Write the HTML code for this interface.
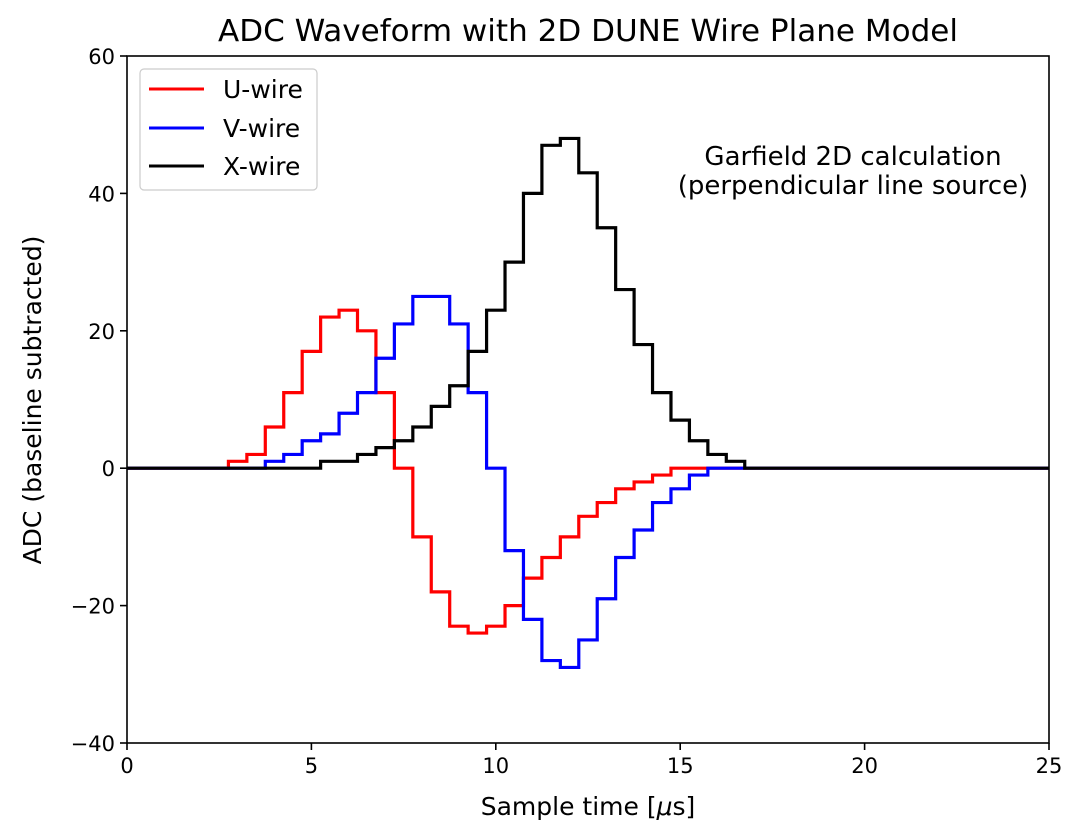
<!DOCTYPE html>
<html><head><meta charset="utf-8"><style>
body{margin:0;background:#fff}
svg text{font-family:"DejaVu Sans","Liberation Sans",sans-serif;fill:#000}
</style></head><body>
<svg id="chart" width="1083" height="830" viewBox="0 0 1083 830" xmlns="http://www.w3.org/2000/svg">
<text x="588" y="41" font-size="30" text-anchor="middle" textLength="740" lengthAdjust="spacingAndGlyphs">ADC Waveform with 2D DUNE Wire Plane Model</text>
<g id="ticks"></g>
<g id="series"></g>
<rect x="127" y="56" width="922" height="687" fill="none" stroke="#000" stroke-width="1.6"/>
<text x="588" y="815" font-size="25" text-anchor="middle">Sample time [<tspan font-style="italic">μ</tspan>s]</text>
<text transform="translate(41,400) rotate(-90)" font-size="25" text-anchor="middle">ADC (baseline subtracted)</text>
<g font-size="26" text-anchor="middle">
<text x="853" y="165">Garfield 2D calculation</text>
<text x="853" y="194">(perpendicular line source)</text>
</g>
<g>
<rect x="140" y="69" width="177" height="121" rx="4" fill="#fff" fill-opacity="0.8" stroke="#ccc" stroke-width="1.2"/>
<line x1="149" y1="89" x2="204" y2="89" stroke="#ff0000" stroke-width="3"/>
<text x="223" y="98" font-size="25">U-wire</text>
<line x1="149" y1="128" x2="204" y2="128" stroke="#0000ff" stroke-width="3"/>
<text x="223" y="137" font-size="25">V-wire</text>
<line x1="149" y1="166" x2="204" y2="166" stroke="#000" stroke-width="3"/>
<text x="223" y="175" font-size="25">X-wire</text>
</g>
</svg>
<script>
// Sample times 0..25 step 0.5; nonzero values listed from startT
const uStart = 3.0;
const uValues = [1,2,6,11,17,22,23,20,11,0,-10,-18,-23,-24,-23,-20,-16,-13,-10,-7,-5,-3,-2,-1,0];
const vStart = 4.0;
const vValues = [1,2,4,5,8,11,16,21,25,25,21,11,0,-12,-22,-28,-29,-25,-19,-13,-9,-5,-3,-1,0];
const xStart = 5.5;
const xValues = [1,1,2,3,4,6,9,12,17,23,30,40,47,48,43,35,26,18,11,7,4,2,1,0];
const xTicks = [0,5,10,15,20,25];
const yTicks = [-40,-20,0,20,40,60];

const X0=127,X1=1049,Y0=743,Y1=56;
const sx=t=>X0+(t/25)*(X1-X0);
const sy=v=>Y0-((v+40)/100)*(Y0-Y1);
const NS='http://www.w3.org/2000/svg';
const tg=document.getElementById('ticks');
xTicks.forEach(t=>{
  const l=document.createElementNS(NS,'line');
  
  
  l.setAttribute('x1',sx(t));l.setAttribute('x2',sx(t));l.setAttribute('y1',Y0);l.setAttribute('y2',Y0+7);
  l.setAttribute('stroke','#000');l.setAttribute('stroke-width','1.6');tg.appendChild(l);
  const tx=document.createElementNS(NS,'text');
  
  
  tx.setAttribute('x',sx(t));tx.setAttribute('y',Y0+30);tx.setAttribute('font-size','21');tx.setAttribute('text-anchor','middle');
  tx.textContent=t;tg.appendChild(tx);
});
yTicks.forEach(v=>{
  const l=document.createElementNS(NS,'line');
  
  
  l.setAttribute('x1',X0-7);l.setAttribute('x2',X0);l.setAttribute('y1',sy(v));l.setAttribute('y2',sy(v));
  l.setAttribute('stroke','#000');l.setAttribute('stroke-width','1.6');tg.appendChild(l);
  const tx=document.createElementNS(NS,'text');
  
  
  tx.setAttribute('x',X0-12);tx.setAttribute('y',sy(v)+8);tx.setAttribute('font-size','21');tx.setAttribute('text-anchor','end');
  tx.textContent=v<0?'\u2212'+Math.abs(v):v;tg.appendChild(tx);
});
function stepPath(start,vals){
  let d='M'+sx(0)+','+sy(0)+' L'+sx(start-0.25)+','+sy(0);
  vals.forEach((v,i)=>{
    const t=start+0.5*i;
    d+=' L'+sx(t-0.25)+','+sy(v)+' L'+sx(t+0.25)+','+sy(v);
  });
  const end=start+0.5*vals.length-0.25;
  d+=' L'+sx(end)+','+sy(0)+' L'+sx(25)+','+sy(0);
  return d;
}
const sg=document.getElementById('series');
[['u-wire-line',uStart,uValues,'#ff0000'],['v-wire-line',vStart,vValues,'#0000ff'],['x-wire-line',xStart,xValues,'#000000']].forEach(s=>{
  const p=document.createElementNS(NS,'path');
  
  
  p.setAttribute('d',stepPath(s[1],s[2]));
  p.setAttribute('fill','none');p.setAttribute('stroke',s[3]);p.setAttribute('stroke-width','3.2');
  p.setAttribute('stroke-linejoin','miter');
  sg.appendChild(p);
});
</script>
</body></html>
